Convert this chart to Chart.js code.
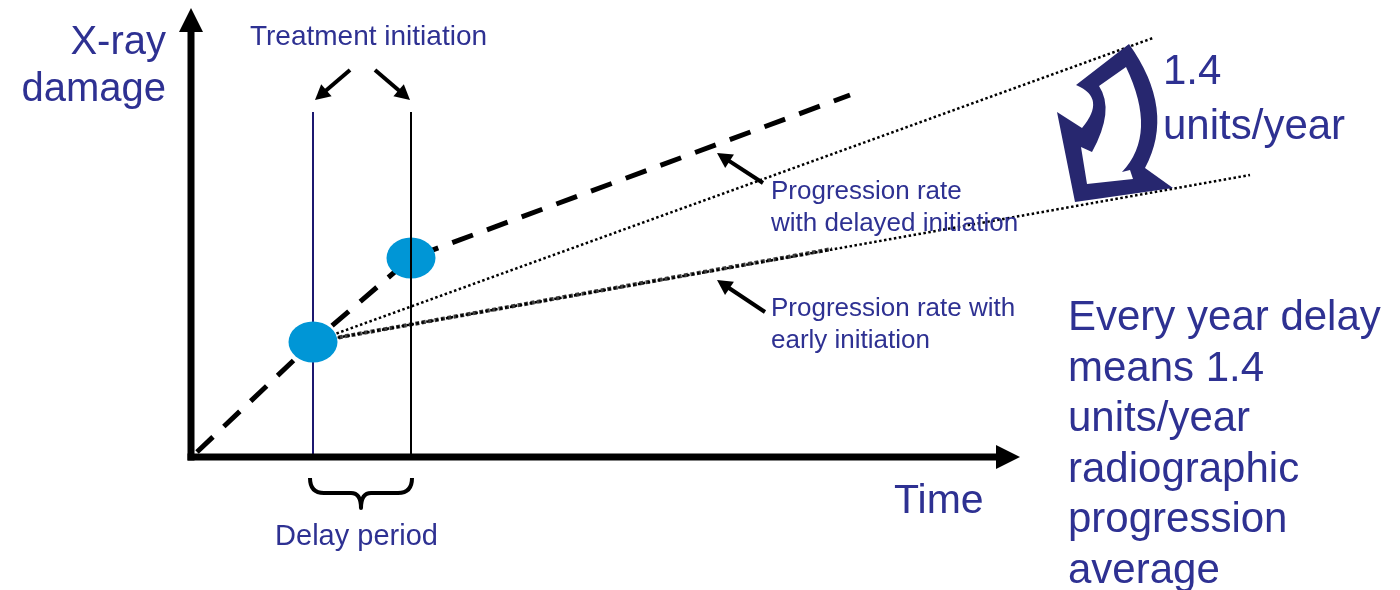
<!DOCTYPE html>
<html>
<head>
<meta charset="utf-8">
<script src="https://cdn.jsdelivr.net/npm/chart.js@4/dist/chart.umd.min.js"></script>
<style>
    html, body { margin: 0; padding: 0; background: #ffffff; }
    #delay-chart { display: block; }
</style>
</head>
<body>
<canvas id="delay-chart" width="1400" height="590"></canvas>
<script>
// x = time, y = x-ray damage (arbitrary units, origin at the axes corner)
const course_x = [0.06, 1.22, 2.20, 6.59];
const course_y = [0.05, 1.15, 1.99, 3.62];

const delayed_x = [1.22, 9.62];
const delayed_y = [1.15, 4.19];

const early_x = [1.22, 10.59];
const early_y = [1.15, 2.82];
const early_marked_x = [1.22, 6.41];
const early_marked_y = [1.15, 2.08];

// early and delayed treatment initiation
const initiation_x = [1.22, 2.20];
const initiation_y = [1.15, 1.99];
const marker_top = 3.45;

const axis_labels = ["X-ray", "damage", "Time"];
const bracket_labels = ["Treatment initiation", "Delay period"];
const delayed_label = ["Progression rate", "with delayed initiation"];
const early_label = ["Progression rate with", "early initiation"];
const rate_label = ["1.4", "units/year"];
const note_lines = ["Every year delay", "means 1.4", "units/year", "radiographic", "progression", "average"];

const text_color = "#2e3192";
const font_family = '"Liberation Sans", Arial, sans-serif';

const to_points = (xs, ys) => xs.map((x, i) => ({ x: x, y: ys[i] }));

// ellipse marker for the two initiation points
const dot_canvas = document.createElement("canvas");
dot_canvas.width = 50;
dot_canvas.height = 42;
{
    const c = dot_canvas.getContext("2d");
    c.fillStyle = "#0096d6";
    c.beginPath();
    c.ellipse(25, 21, 24.5, 20.5, 0, 0, Math.PI * 2);
    c.fill();
}

function px(chart, x, y) {
    return [chart.scales.x.getPixelForValue(x), chart.scales.y.getPixelForValue(y)];
}

function draw_arrow(ctx, x1, y1, x2, y2, width, head, half) {
    const a = Math.atan2(y2 - y1, x2 - x1);
    const bx = x2 - Math.cos(a) * head;
    const by = y2 - Math.sin(a) * head;
    ctx.lineWidth = width;
    ctx.lineCap = "butt";
    ctx.beginPath();
    ctx.moveTo(x1, y1);
    ctx.lineTo(bx + Math.cos(a) * 2, by + Math.sin(a) * 2);
    ctx.stroke();
    ctx.beginPath();
    ctx.moveTo(x2, y2);
    ctx.lineTo(bx - Math.sin(a) * half, by + Math.cos(a) * half);
    ctx.lineTo(bx + Math.sin(a) * half, by - Math.cos(a) * half);
    ctx.closePath();
    ctx.fill();
}

function draw_text(ctx, chart, text, x, y, size, align) {
    const p = px(chart, x, y);
    ctx.font = size + "px " + font_family;
    ctx.textAlign = align;
    ctx.textBaseline = "alphabetic";
    ctx.fillText(text, p[0], p[1]);
}

const diagram_plugin = {
    id: "diagram",
    afterDatasetsDraw(chart) {
        const ctx = chart.ctx;
        ctx.save();
        ctx.fillStyle = "#000000";
        ctx.strokeStyle = "#000000";

        // axes with arrow heads
        const o = px(chart, 0, 0);
        const y_end = px(chart, 0, 4.49);
        const x_end = px(chart, 8.29, 0);
        draw_arrow(ctx, o[0], o[1] + 3.5, y_end[0], y_end[1], 7, 24, 12);
        draw_arrow(ctx, o[0] - 3.5, o[1], x_end[0], x_end[1], 7, 24, 12);

        // pointers
        const pointers = [
            [1.59, 3.87, 1.24, 3.57],
            [1.84, 3.87, 2.19, 3.57],
            [5.72, 2.74, 5.26, 3.04],
            [5.74, 1.45, 5.26, 1.77],
        ];
        pointers.forEach(p => {
            const a = px(chart, p[0], p[1]);
            const b = px(chart, p[2], p[3]);
            draw_arrow(ctx, a[0], a[1], b[0], b[1], 4, 15, 8);
        });

        // curly brace under the delay period
        const l = px(chart, 1.19, -0.21);
        const r = px(chart, 2.21, -0.21);
        const mid = (l[0] + r[0]) / 2;
        ctx.lineWidth = 4;
        ctx.lineJoin = "round";
        ctx.beginPath();
        ctx.moveTo(l[0], l[1]);
        ctx.quadraticCurveTo(l[0], l[1] + 15, l[0] + 14, l[1] + 15);
        ctx.lineTo(mid - 10, l[1] + 15);
        ctx.quadraticCurveTo(mid, l[1] + 15, mid, l[1] + 30);
        ctx.quadraticCurveTo(mid, l[1] + 15, mid + 10, l[1] + 15);
        ctx.lineTo(r[0] - 14, l[1] + 15);
        ctx.quadraticCurveTo(r[0], l[1] + 15, r[0], l[1]);
        ctx.stroke();

        // curved block arrow between the two rates (offsets from its tip)
        const t = px(chart, 8.84, 2.55);
        const q = (dx, dy) => [t[0] + dx, t[1] + dy];
        const path = (pts) => {
            ctx.beginPath();
            pts.forEach((s, i) => {
                if (s.length == 2) {
                    const p = q(s[0], s[1]);
                    if (i == 0) ctx.moveTo(p[0], p[1]); else ctx.lineTo(p[0], p[1]);
                } else {
                    const c = q(s[0], s[1]);
                    const p = q(s[2], s[3]);
                    ctx.quadraticCurveTo(c[0], c[1], p[0], p[1]);
                }
            });
            ctx.closePath();
            ctx.fill();
        };
        ctx.fillStyle = "#27276f";
        path([[54, -158], [101, -92, 70, -34], [98, -14], [0, 0], [-18, -90], [7, -74], [32, -104, 1, -117]]);
        ctx.fillStyle = "#ffffff";
        path([[24, -116], [51, -135], [83, -68, 47, -30], [55, -32], [58, -23], [12, -18], [6, -55], [17, -50], [40, -92, 24, -116]]);

        ctx.restore();
    },
    afterDraw(chart) {
        const ctx = chart.ctx;
        ctx.save();
        ctx.fillStyle = text_color;

        draw_text(ctx, chart, axis_labels[0], -0.25, 4.03, 40, "right");
        draw_text(ctx, chart, axis_labels[1], -0.25, 3.56, 40, "right");
        draw_text(ctx, chart, axis_labels[2], 7.03, -0.56, 41, "left");

        draw_text(ctx, chart, bracket_labels[0], 1.775, 4.12, 28, "center");
        draw_text(ctx, chart, bracket_labels[1], 1.655, -0.88, 29, "center");

        draw_text(ctx, chart, delayed_label[0], 5.80, 2.58, 26, "left");
        draw_text(ctx, chart, delayed_label[1], 5.80, 2.26, 26, "left");
        draw_text(ctx, chart, early_label[0], 5.80, 1.41, 26, "left");
        draw_text(ctx, chart, early_label[1], 5.80, 1.09, 26, "left");

        draw_text(ctx, chart, rate_label[0], 9.72, 3.73, 42, "left");
        draw_text(ctx, chart, rate_label[1], 9.72, 3.18, 42, "left");

        note_lines.forEach((line, i) => {
            draw_text(ctx, chart, line, 8.77, 1.27 - i * 0.505, 42, "left");
        });

        ctx.restore();
    }
};

const line_style = {
    showLine: true,
    pointRadius: 0,
    tension: 0,
    fill: false,
    borderCapStyle: "butt",
};

new Chart(document.getElementById("delay-chart"), {
    type: "scatter",
    data: {
        datasets: [
            {
                ...line_style,
                label: "Delayed initiation",
                data: [{ x: initiation_x[1], y: 0 }, { x: initiation_x[1], y: marker_top }],
                borderColor: "#000000",
                borderWidth: 2,
                order: 0,
            },
            {
                label: "Initiation",
                data: to_points(initiation_x, initiation_y),
                pointStyle: dot_canvas,
                pointRadius: 22,
                showLine: false,
                order: 1,
            },
            {
                ...line_style,
                label: "Early initiation",
                data: [{ x: initiation_x[0], y: 0 }, { x: initiation_x[0], y: marker_top }],
                borderColor: "#1c1870",
                borderWidth: 2,
                order: 2,
            },
            {
                ...line_style,
                label: "Natural course",
                data: to_points(course_x, course_y),
                borderColor: "#000000",
                borderWidth: 5,
                borderDash: [22, 15],
                order: 2,
            },
            {
                ...line_style,
                label: "Progression rate with delayed initiation",
                data: to_points(delayed_x, delayed_y),
                borderColor: "#000000",
                borderWidth: 2.5,
                borderDash: [2.5, 2.5],
                order: 2,
            },
            {
                ...line_style,
                label: "Progression rate with early initiation",
                data: to_points(early_x, early_y),
                borderColor: "#000000",
                borderWidth: 2.5,
                borderDash: [2.5, 2.5],
                order: 2,
            },
            {
                ...line_style,
                label: "Early initiation (marked)",
                data: to_points(early_marked_x, early_marked_y),
                borderColor: "#3c3c3c",
                borderWidth: 4,
                borderDash: [4, 2.5],
                order: 2,
            },
        ]
    },
    options: {
        responsive: false,
        devicePixelRatio: 1,
        animation: false,
        events: [],
        layout: { padding: 0, autoPadding: false },
        scales: {
            x: { type: "linear", min: -1.91, max: 12.09, display: false },
            y: { type: "linear", min: -1.33, max: 4.57, display: false },
        },
        plugins: {
            legend: { display: false },
            tooltip: { enabled: false },
        }
    },
    plugins: [diagram_plugin]
});
</script>
</body>
</html>
